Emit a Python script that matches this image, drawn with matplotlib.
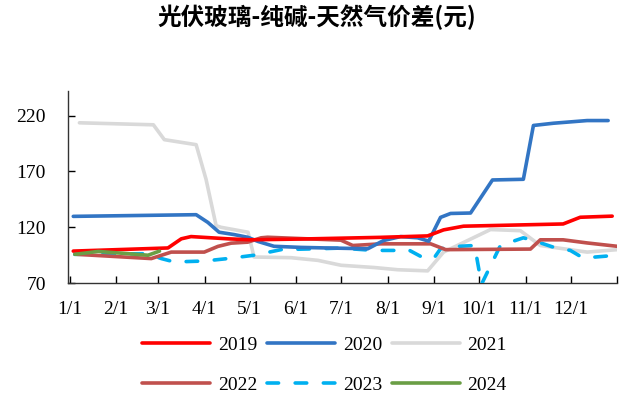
import matplotlib.pyplot as plt

plt.rcParams['font.family'] = ['Liberation Serif', 'Noto Sans CJK SC', 'DejaVu Sans']

# day of year (0 = Jan 1) and price spread (yuan) for each year
days_2019 = [2.5, 65.6, 74.5, 81, 105.5, 121, 154, 207, 238.7, 249.3, 262.6, 329, 340.4, 361.7]
vals_2019 = [98.7, 101.5, 109.7, 111.7, 109.7, 108.8, 109.5, 111, 112.3, 117.7, 121, 123, 129, 130]

days_2020 = [2.5, 84.4, 92.2, 99.7, 109.7, 119, 125.7, 136.3, 154.3, 178.9, 198.8, 209.4,
             220.7, 232, 239.4, 247.3, 254, 267.3, 281.9, 302.5, 309.2, 322.5, 345, 359]
vals_2020 = [129.8, 131.3, 124.4, 115.6, 113.5, 111, 107.3, 103, 102, 101.3, 100.8, 108.2,
             111.7, 110.6, 107.6, 128.9, 132.4, 132.8, 162.4, 163, 211.2, 213.2, 215.6, 215.6]

days_2021 = [6.6, 55.9, 63.2, 84.4, 91, 97.7, 101, 119, 123, 147.6, 165.6, 181, 203,
             218.8, 238.7, 249.3, 280.6, 300.5, 313.8, 345, 365]
vals_2021 = [213.6, 211.8, 198.5, 194, 163, 121.5, 120, 115.6, 93.4, 92.8, 90.4, 86, 84,
             82, 81, 97.8, 118, 117, 103.7, 97.8, 100]

days_2022 = [4.7, 54.5, 67.8, 89.8, 98.9, 107.7, 118.8, 127.7, 132, 180.9, 188.8, 207.4,
             240.7, 250.7, 307.2, 313.8, 329, 345, 365]
vals_2022 = [95.8, 92, 97.8, 97.8, 102.9, 105.8, 106.7, 110.6, 111.1, 108.5, 103.7, 105.2,
             105.2, 100, 100.5, 108.8, 108.8, 106, 103]

days_2023 = [3.5, 52.3, 61.2, 69.8, 89.8, 105.5, 123, 141, 165.6, 180.9, 202.8, 218.8,
             225.4, 234, 242.7, 247.3, 258.4, 270, 274.6, 287.2, 302.5, 309.2, 322.5,
             333.8, 342.4, 365]
vals_2023 = [95.8, 96.4, 92, 89, 89.8, 92, 95, 100, 100.8, 101.4, 99.3, 99.3,
             100.2, 94, 92, 100.8, 102.9, 103.7, 69, 103.7, 110.6, 108.2, 102.2,
             99.3, 92.5, 95]

days_2024 = [3.5, 19.1, 52.3, 60]
vals_2024 = [95.8, 98.4, 95, 98.7]

month_starts = [0, 31, 59, 90, 120, 151, 181, 212, 243, 273, 304, 334]
month_labels = ['1/1', '2/1', '3/1', '4/1', '5/1', '6/1', '7/1', '8/1', '9/1',
                '10/1', '11/1', '12/1']
y_ticks = [70, 120, 170, 220]

fig = plt.figure(figsize=(6.24, 3.96), dpi=100)
ax = fig.add_axes([0.109, 0.285, 0.880, 0.485])

lw = 2.6
lines = {}
lines['2019'], = ax.plot(days_2019, vals_2019, color='#FF0000', lw=lw, solid_capstyle='round', zorder=6)
lines['2020'], = ax.plot(days_2020, vals_2020, color='#3275C4', lw=lw, solid_capstyle='round', zorder=5)
lines['2021'], = ax.plot(days_2021, vals_2021, color='#D9D9D9', lw=lw, solid_capstyle='round', zorder=2)
lines['2022'], = ax.plot(days_2022, vals_2022, color='#C0504D', lw=lw, solid_capstyle='round', zorder=4)
lines['2023'], = ax.plot(days_2023, vals_2023, color='#00B0F0', lw=lw, dashes=(3.2, 4.6),
                         dash_capstyle='round', zorder=3)
lines['2024'], = ax.plot(days_2024, vals_2024, color='#6A9E45', lw=lw, solid_capstyle='round', zorder=7)

ax.set_xlim(-1, 365)
ax.set_ylim(70, 242)
ax.set_yticks(y_ticks)
ax.set_xticks(month_starts + [365])
ax.set_xticklabels(month_labels + [''])
ax.tick_params(direction='in', length=5, width=1, labelsize=14, colors='black')
ax.tick_params(axis='x', pad=13)
ax.tick_params(axis='y', pad=16)
for side in ('top', 'right'):
  ax.spines[side].set_visible(False)
for side in ('left', 'bottom'):
  ax.spines[side].set_linewidth(1)
  ax.spines[side].set_color('#333333')

fig.suptitle('光伏玻璃-纯碱-天然气价差(元)', x=0.508, y=0.99, fontsize=17,
             fontweight='bold', family=['Noto Sans CJK SC'])

# legend fills column by column, so order the entries to read row-wise
order = ['2019', '2022', '2020', '2023', '2021', '2024']
fig.legend([lines[k] for k in order], order, loc='center', bbox_to_anchor=(0.52, 0.078),
           ncol=3, frameon=False, fontsize=14, handlelength=3.5, handletextpad=0.4,
           columnspacing=0.5, labelspacing=1.15)

fig.savefig('out.png', dpi=100)
